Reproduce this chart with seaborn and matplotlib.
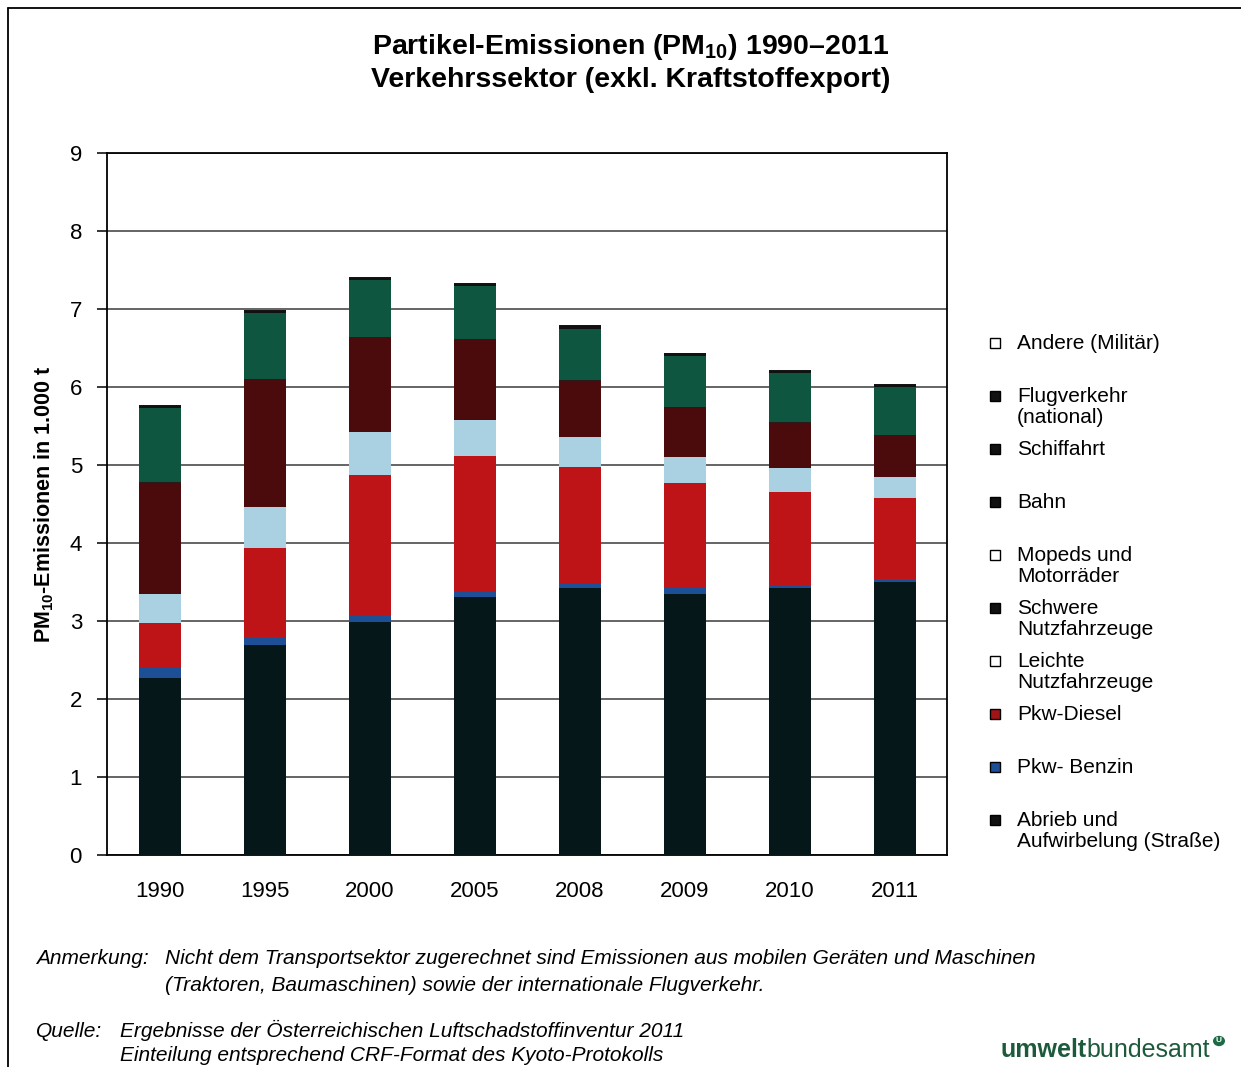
import numpy as np
import matplotlib
matplotlib.use("Agg")
import matplotlib.pyplot as plt
import seaborn as sns
from matplotlib.lines import Line2D
from matplotlib.patches import Rectangle, Circle

# --- DATA (PM10 in 1.000 t) ---
years = ["1990", "1995", "2000", "2005", "2008", "2009", "2010", "2011"]

abrieb = [2.27, 2.69, 2.99, 3.31, 3.42, 3.35, 3.42, 3.50]
pkw_benzin = [0.13, 0.11, 0.09, 0.06, 0.07, 0.07, 0.04, 0.04]
pkw_diesel = [0.57, 1.14, 1.79, 1.75, 1.48, 1.35, 1.19, 1.04]
leichte_nfz = [0.38, 0.52, 0.55, 0.46, 0.39, 0.33, 0.31, 0.27]
schwere_nfz = [1.42, 1.63, 1.21, 1.02, 0.72, 0.64, 0.58, 0.53]
mopeds = [0.01, 0.01, 0.01, 0.01, 0.01, 0.01, 0.01, 0.01]
bahn = [0.95, 0.85, 0.73, 0.68, 0.66, 0.65, 0.63, 0.61]
schiffahrt = [0.02, 0.02, 0.02, 0.02, 0.02, 0.02, 0.02, 0.02]
flugverkehr = [0.01, 0.01, 0.01, 0.01, 0.01, 0.01, 0.01, 0.01]
andere = [0.01, 0.01, 0.01, 0.01, 0.01, 0.01, 0.01, 0.01]

# stacking order bottom -> top
layers = [
    ("Abrieb und\nAufwirbelung (Straße)", abrieb, "#06171a"),
    ("Pkw- Benzin", pkw_benzin, "#1d4f97"),
    ("Pkw-Diesel", pkw_diesel, "#be1418"),
    ("Leichte\nNutzfahrzeuge", leichte_nfz, "#a9d1e2"),
    ("Schwere\nNutzfahrzeuge", schwere_nfz, "#4b0b0c"),
    ("Mopeds und\nMotorräder", mopeds, "#2a1a1a"),
    ("Bahn", bahn, "#0f5641"),
    ("Schiffahrt", schiffahrt, "#111111"),
    ("Flugverkehr\n(national)", flugverkehr, "#111111"),
    ("Andere (Militär)", andere, "#151515"),
]

# legend markers as printed (top -> bottom)
legend_labels = ["Andere (Militär)", "Flugverkehr\n(national)", "Schiffahrt", "Bahn",
                 "Mopeds und\nMotorräder", "Schwere\nNutzfahrzeuge", "Leichte\nNutzfahrzeuge",
                 "Pkw-Diesel", "Pkw- Benzin", "Abrieb und\nAufwirbelung (Straße)"]
legend_colors = ["white", "#111111", "#111111", "#111111", "white", "#111111", "white",
                 "#a01418", "#1d4f97", "#111111"]

sns.set_style("white")
plt.rcParams["font.family"] = ["Liberation Sans", "DejaVu Sans"]
plt.rcParams["mathtext.fontset"] = "custom"
plt.rcParams["mathtext.rm"] = "Liberation Sans"
plt.rcParams["mathtext.bf"] = "Liberation Sans:bold"
for key in ["text.color", "axes.labelcolor", "xtick.color", "ytick.color"]:
    plt.rcParams[key] = "black"

fig = plt.figure(figsize=(12.41, 10.67), dpi=100)
ax = fig.add_axes([107 / 1241, 1 - 855 / 1067, 840 / 1241, 702 / 1067])

# cumulative totals, drawn from the top layer down so the stacks overlap correctly
cum = np.cumsum(np.array([l[1] for l in layers]), axis=0)
for i in range(len(layers) - 1, -1, -1):
    sns.barplot(x=years, y=cum[i], color=layers[i][2], width=0.4,
                saturation=1, edgecolor="none", ax=ax, zorder=3)

ax.set_ylim(0, 9)
ax.set_xlim(-0.5, 7.5)
ax.set_yticks(range(0, 10))
ax.yaxis.grid(True, color="#3a3a3a", linewidth=1.1, zorder=0)
ax.set_axisbelow(True)
for s in ax.spines.values():
    s.set_color("black")
    s.set_linewidth(1.3)
ax.tick_params(axis="y", left=True, direction="out", length=7, width=1.1,
               pad=11, labelsize=16)
ax.tick_params(axis="x", bottom=False, pad=15, labelsize=16)
ax.set_xlabel("")
ax.set_ylabel("PM$_{\\mathbf{10}}$-Emissionen in 1.000 t", fontsize=15.5,
              fontweight="bold", labelpad=10)

# title
fig.text(0.5 + 10 / 1241, 1 - 47 / 1067, "Partikel-Emissionen (PM$_{\\mathbf{10}}$) 1990–2011",
         ha="center", va="center", fontsize=20.5, fontweight="bold")
fig.text(0.5 + 10 / 1241, 1 - 80 / 1067, "Verkehrssektor (exkl. Kraftstoffexport)",
         ha="center", va="center", fontsize=20.5, fontweight="bold")

# manual legend
for k, (lab, col) in enumerate(zip(legend_labels, legend_colors)):
    y = 343 + 53 * k
    fig.patches.append(Rectangle((990 / 1241, 1 - (y + 5) / 1067), 10 / 1241, 10 / 1067,
                                 transform=fig.transFigure, facecolor=col,
                                 edgecolor="black", linewidth=1))
    fig.text(1017 / 1241, 1 - (y - 9) / 1067, lab, ha="left", va="top",
             fontsize=15, linespacing=1.15)

# outer frame lines
fig.add_artist(Line2D([8 / 1241, 8 / 1241], [0, 1 - 8 / 1067], color="black",
                      linewidth=1.3, transform=fig.transFigure))
fig.add_artist(Line2D([8 / 1241, 1], [1 - 8 / 1067, 1 - 8 / 1067], color="black",
                      linewidth=1.3, transform=fig.transFigure))

# footnotes (baseline aligned)
note_font = dict(fontsize=15, style="italic", va="baseline")
fig.text(36 / 1241, 1 - 964 / 1067, "Anmerkung:", **note_font)
fig.text(165 / 1241, 1 - 964 / 1067,
         "Nicht dem Transportsektor zugerechnet sind Emissionen aus mobilen Geräten und Maschinen",
         **note_font)
fig.text(165 / 1241, 1 - 991 / 1067,
         "(Traktoren, Baumaschinen) sowie der internationale Flugverkehr.",
         **note_font)
fig.text(36 / 1241, 1 - 1037 / 1067, "Quelle:", **note_font)
fig.text(120 / 1241, 1 - 1037 / 1067,
         "Ergebnisse der Österreichischen Luftschadstoffinventur 2011",
         **note_font)
fig.text(120 / 1241, 1 - 1061 / 1067,
         "Einteilung entsprechend CRF-Format des Kyoto-Protokolls",
         **note_font)

# logo
t1 = fig.text(1000 / 1241, 1 - 1050 / 1067, "umwelt", va="center", ha="left",
              fontsize=18, fontweight="bold", color="#1d5a3c")
fig.canvas.draw()
bb = t1.get_window_extent()
x2 = bb.x1 / fig.bbox.width
fig.text(x2, 1 - 1050 / 1067, "bundesamt", va="center", ha="left",
         fontsize=18, color="#1d5a3c")
fig.add_artist(Circle((1219 / 1241, 1 - 1041 / 1067), 6 / 1241, transform=fig.transFigure,
                      facecolor="#1d6a45", edgecolor="none"))
fig.text(1219 / 1241, 1 - 1041 / 1067, "U", ha="center", va="center", fontsize=6,
         color="white", fontweight="bold")

fig.savefig("out.png", dpi=100)
